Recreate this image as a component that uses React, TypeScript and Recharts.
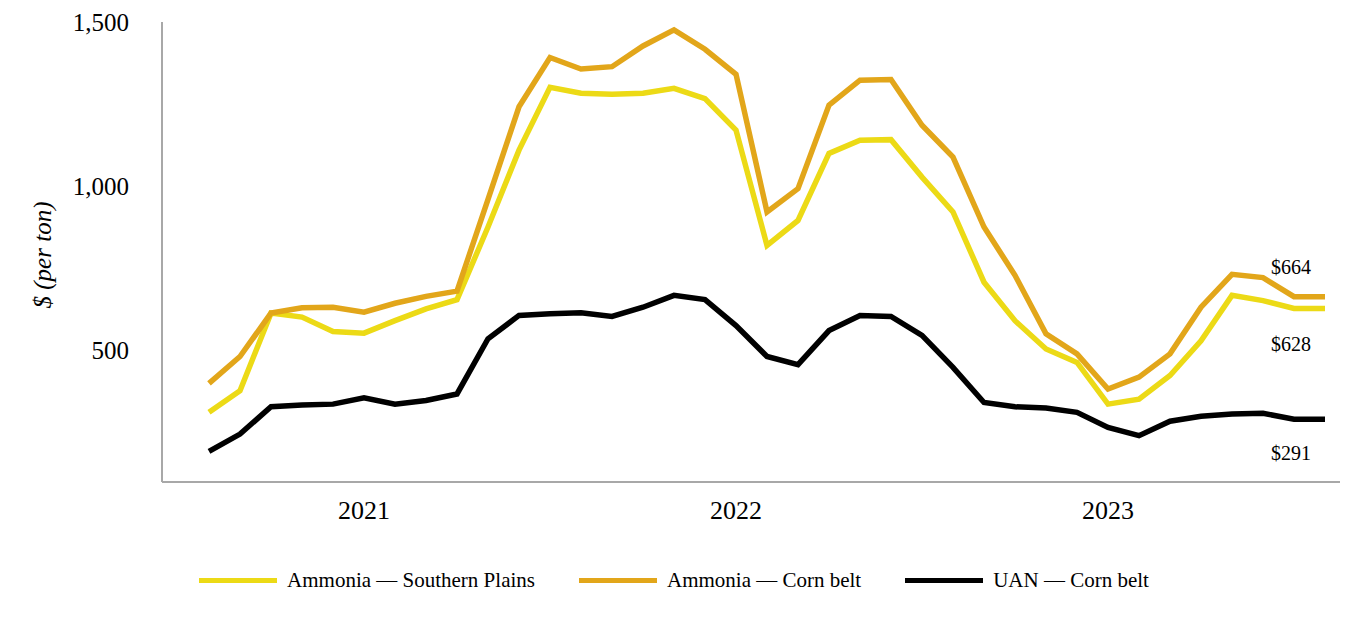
import React from 'react';
import { LineChart, Line, XAxis, YAxis, Legend, LabelList } from 'recharts';

const months = [
  '2020-08', '2020-09', '2020-10', '2020-11', '2020-12',
  '2021-01', '2021-02', '2021-03', '2021-04', '2021-05', '2021-06',
  '2021-07', '2021-08', '2021-09', '2021-10', '2021-11', '2021-12',
  '2022-01', '2022-02', '2022-03', '2022-04', '2022-05', '2022-06',
  '2022-07', '2022-08', '2022-09', '2022-10', '2022-11', '2022-12',
  '2023-01', '2023-02', '2023-03', '2023-04', '2023-05', '2023-06',
  '2023-07', '2023-08',
];

const ammoniaSouthernPlains = [
  312, 378, 614, 602, 558, 553, 591, 627, 655, 876, 1110, 1301, 1283,
  1280, 1283, 1298, 1267, 1171, 820, 896, 1100, 1140, 1142, 1028, 922,
  708, 591, 505, 464, 337, 352, 424, 530, 668, 652, 628, 628,
];

const ammoniaCornBelt = [
  400, 482, 614, 630, 632, 617, 644, 665, 681, 960, 1242, 1392, 1357,
  1364, 1427, 1476, 1417, 1341, 922, 993, 1247, 1323, 1325, 1186, 1089,
  876, 729, 551, 490, 383, 419, 490, 632, 732, 722, 664, 664,
];

const uanCornBelt = [
  193, 246, 329, 334, 337, 356, 337, 348, 368, 536, 607, 612, 615,
  604, 632, 668, 655, 576, 482, 457, 561, 607, 604, 546, 449, 342,
  329, 325, 312, 266, 241, 285, 300, 307, 309, 291, 291,
];

const yearTicks = ['2021-01', '2022-01', '2023-01'];
const yTicks = [500, 1000, 1500];

const seriesNames = {
  sp: 'Ammonia \u2014 Southern Plains',
  cb: 'Ammonia \u2014 Corn belt',
  uan: 'UAN \u2014 Corn belt',
};

const COLORS = { sp: '#ECDA16', cb: '#E2A61A', uan: '#000000' };
const FONT = '"Liberation Serif", "Times New Roman", serif';
const AXIS = '#A8A8A8';

const data = months.map((m, i) => ({
  month: m,
  sp: ammoniaSouthernPlains[i],
  cb: ammoniaCornBelt[i],
  uan: uanCornBelt[i],
}));

const LABEL_INDEX = months.length - 2;

const makeEndLabel = (values: number[], dy: number) => (props: any) => {
  const { x, y, index } = props;
  if (index !== LABEL_INDEX) return null;
  return (
    <text
      x={x - 3}
      y={y + dy}
      textAnchor="middle"
      dominantBaseline="central"
      fontFamily={FONT}
      fontSize={20}
      fill="#000"
    >
      {'$' + values[values.length - 1]}
    </text>
  );
};

const renderLegend = () => {
  const items = [
    { key: 'sp', name: seriesNames.sp, color: COLORS.sp },
    { key: 'cb', name: seriesNames.cb, color: COLORS.cb },
    { key: 'uan', name: seriesNames.uan, color: COLORS.uan },
  ];
  return (
    <div
      style={{
        height: 70,
        display: 'flex',
        justifyContent: 'center',
        alignItems: 'center',
        paddingTop: 6,
        boxSizing: 'border-box',
        gap: 44,
        fontFamily: FONT,
        fontSize: 21,
        color: '#000',
      }}
    >
      {items.map((it) => (
        <div key={it.key} style={{ display: 'flex', alignItems: 'center' }}>
          <div style={{ width: 78, height: 5, background: it.color, marginRight: 10 }} />
          <span>{it.name}</span>
        </div>
      ))}
    </div>
  );
};

const YLabel = (props: any) => {
  const { viewBox } = props;
  const cx = viewBox.x + 34;
  const cy = viewBox.y + viewBox.height / 2 + 3;
  return (
    <text
      x={cx}
      y={cy}
      transform={`rotate(-90, ${cx}, ${cy})`}
      textAnchor="middle"
      dominantBaseline="central"
      fontFamily={FONT}
      fontStyle="italic"
      fontSize={25}
      fill="#000"
    >
      $ (per ton)
    </text>
  );
};

export default function App() {
  return (
    <div style={{ width: 1346, height: 604, background: '#fff' }}>
      <LineChart
        width={1346}
        height={604}
        data={data}
        margin={{ top: 14, right: 14, bottom: 0, left: 0 }}
      >
        <XAxis
          dataKey="month"
          ticks={yearTicks}
          tickFormatter={(v: string) => v.slice(0, 4)}
          tickLine={false}
          tickSize={0}
          tickMargin={19}
          height={60}
          padding={{ left: 47, right: 15 }}
          axisLine={{ stroke: AXIS, strokeWidth: 2 }}
          tick={{ fontFamily: FONT, fontSize: 26, fill: '#000' }}
          interval={0}
        />
        <YAxis
          domain={[100, 1500]}
          ticks={yTicks}
          allowDataOverflow
          width={154}
          tickLine={false}
          tickSize={0}
          tickMargin={33}
          axisLine={{ stroke: AXIS, strokeWidth: 2 }}
          tick={{ fontFamily: FONT, fontSize: 25, fill: '#000' }}
          tickFormatter={(v: number) => v.toLocaleString('en-US')}
          label={<YLabel />}
        />
        <Legend verticalAlign="bottom" height={70} content={renderLegend} />
        <Line
          type="linear"
          dataKey="sp"
          name={seriesNames.sp}
          stroke={COLORS.sp}
          strokeWidth={5.5}
          dot={false}
          activeDot={false}
          isAnimationActive={false}
        >
          <LabelList dataKey="sp" content={makeEndLabel(ammoniaSouthernPlains, 35)} />
        </Line>
        <Line
          type="linear"
          dataKey="cb"
          name={seriesNames.cb}
          stroke={COLORS.cb}
          strokeWidth={5.5}
          dot={false}
          activeDot={false}
          isAnimationActive={false}
        >
          <LabelList dataKey="cb" content={makeEndLabel(ammoniaCornBelt, -30)} />
        </Line>
        <Line
          type="linear"
          dataKey="uan"
          name={seriesNames.uan}
          stroke={COLORS.uan}
          strokeWidth={5.5}
          dot={false}
          activeDot={false}
          isAnimationActive={false}
        >
          <LabelList dataKey="uan" content={makeEndLabel(uanCornBelt, 34)} />
        </Line>
      </LineChart>
    </div>
  );
}
